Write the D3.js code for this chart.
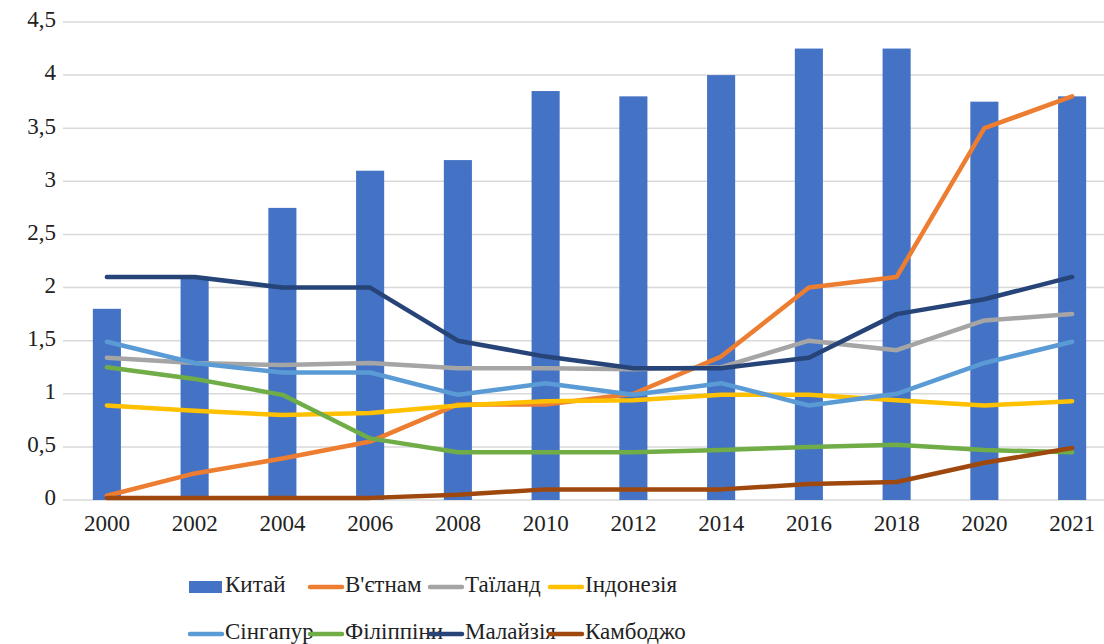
<html>
<head>
<style>
  body { margin: 0; background: #fff; }
</style>
</head>
<body>
<svg id="chart" width="1104" height="644">
  <style>text { font-family: "Liberation Serif", "Times New Roman", serif; }</style>
</svg>
<script src="https://cdn.jsdelivr.net/npm/d3@7"></script>
<script>
const years = ["2000", "2002", "2004", "2006", "2008", "2010", "2012", "2014", "2016", "2018", "2020", "2021"]
const yTicks = [0, 0.5, 1, 1.5, 2, 2.5, 3, 3.5, 4, 4.5]

const china       = [1.8, 2.1, 2.75, 3.1, 3.2, 3.85, 3.8, 4.0, 4.25, 4.25, 3.75, 3.8]
const vietnam     = [0.04, 0.25, 0.39, 0.55, 0.9, 0.9, 1.0, 1.35, 2.0, 2.1, 3.5, 3.8]
const thailand    = [1.34, 1.29, 1.27, 1.29, 1.24, 1.24, 1.23, 1.25, 1.5, 1.41, 1.69, 1.75]
const indonesia   = [0.89, 0.84, 0.8, 0.82, 0.89, 0.93, 0.94, 0.99, 0.99, 0.94, 0.89, 0.93]
const singapore   = [1.49, 1.29, 1.2, 1.2, 0.99, 1.1, 0.99, 1.1, 0.89, 1.0, 1.29, 1.49]
const philippines = [1.25, 1.14, 0.99, 0.58, 0.45, 0.45, 0.45, 0.47, 0.5, 0.52, 0.47, 0.45]
const malaysia    = [2.1, 2.1, 2.0, 2.0, 1.5, 1.35, 1.24, 1.24, 1.34, 1.75, 1.89, 2.1]
const cambodia    = [0.02, 0.02, 0.02, 0.02, 0.05, 0.1, 0.1, 0.1, 0.15, 0.17, 0.35, 0.49]

const lineSeries = [
  {name: "В'єтнам", values: vietnam, color: "#ED7D31"},
  {name: "Таїланд", values: thailand, color: "#A5A5A5"},
  {name: "Індонезія", values: indonesia, color: "#FFC000"},
  {name: "Сінгапур", values: singapore, color: "#5B9BD5"},
  {name: "Філіппіни", values: philippines, color: "#70AD47"},
  {name: "Малайзія", values: malaysia, color: "#264478"},
  {name: "Камбоджо", values: cambodia, color: "#9E480E"}
]

let svg = d3.select("#chart")

let x = d3.scaleBand().domain(years).range([63, 1116]).paddingInner(0.68).paddingOuter(0.34)
let y = d3.scaleLinear().domain([0, 4.5]).range([500, 22])
let cx = d => x(d) + x.bandwidth() / 2

// grid
svg.append("g").selectAll("line").data(yTicks)
  .enter().append("line")
  .attr("x1", 63).attr("x2", 1104)
  .attr("y1", d => y(d)).attr("y2", d => y(d))
  .attr("stroke", "#D9D9D9").attr("stroke-width", 1.5)

// y labels
svg.append("g").selectAll("text").data(yTicks)
  .enter().append("text")
  .attr("x", 56).attr("y", d => y(d))
  .attr("text-anchor", "end").attr("dominant-baseline", "middle")
  .attr("font-size", 23).attr("fill", "#222")
  .text(d => String(d).replace(".", ","))

// x labels
svg.append("g").selectAll("text").data(years)
  .enter().append("text")
  .attr("x", d => cx(d)).attr("y", 526)
  .attr("text-anchor", "middle").attr("dominant-baseline", "middle")
  .attr("font-size", 23).attr("fill", "#222")
  .text(d => d)

// bars
svg.append("g").selectAll("rect").data(china)
  .enter().append("rect")
  .attr("x", (d, i) => x(years[i]))
  .attr("width", x.bandwidth())
  .attr("y", d => y(d))
  .attr("height", d => y(0) - y(d))
  .attr("fill", "#4472C4")

// lines
let line = d3.line()
  .x((d, i) => cx(years[i]))
  .y(d => y(d))

svg.append("g").selectAll("path").data(lineSeries)
  .enter().append("path")
  .attr("d", d => line(d.values))
  .attr("fill", "none")
  .attr("stroke", d => d.color)
  .attr("stroke-width", 4.5)
  .attr("stroke-linecap", "round")
  .attr("stroke-linejoin", "round")

// legend
let legendItems = [{name: "Китай", color: "#4472C4", bar: true}].concat(lineSeries)
let leg = svg.append("g").selectAll("g").data(legendItems)
  .enter().append("g")
  .attr("transform", (d, i) => `translate(${188 + (i % 4) * 120},${i < 4 ? 587 : 634})`)

leg.filter(d => d.bar).append("rect")
  .attr("x", 1).attr("y", -6).attr("width", 33).attr("height", 12)
  .attr("fill", d => d.color)
leg.filter(d => !d.bar).append("line")
  .attr("x1", 2).attr("x2", 34).attr("y1", 0).attr("y2", 0)
  .attr("stroke", d => d.color).attr("stroke-width", 4.5)
  .attr("stroke-linecap", "round")
leg.append("text")
  .attr("x", 37).attr("y", 0)
  .attr("dominant-baseline", "middle")
  .attr("font-size", 23).attr("fill", "#222")
  .text(d => d.name)
</script>
</body>
</html>
